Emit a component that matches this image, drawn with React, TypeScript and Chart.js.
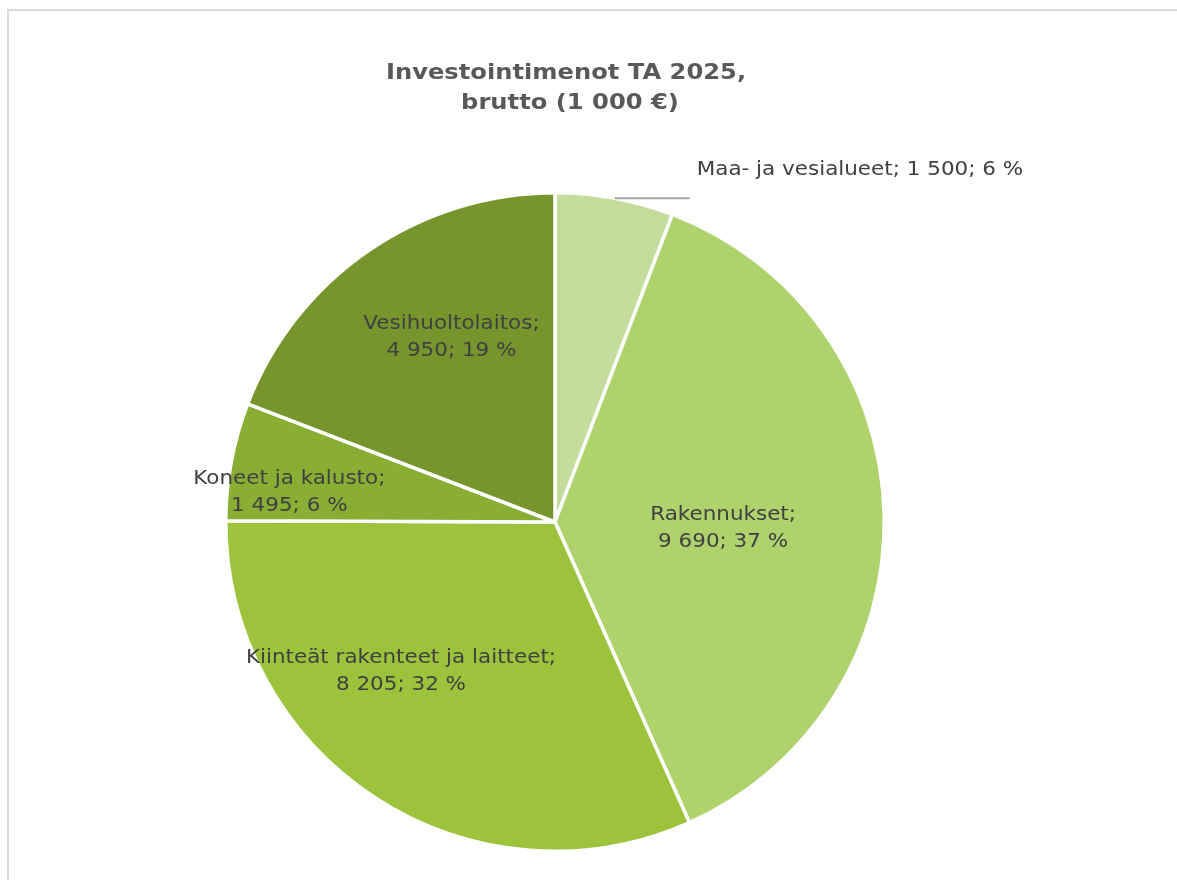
import React, { useEffect, useRef } from "react";
import { Chart, registerables } from "chart.js";

Chart.register(...registerables);

const categories = [
  "Maa- ja vesialueet",
  "Rakennukset",
  "Kiinteät rakenteet ja laitteet",
  "Koneet ja kalusto",
  "Vesihuoltolaitos",
];
const values = [1500, 9690, 8205, 1495, 4950];
const percents = [6, 37, 32, 6, 19];
const colors = ["#C5DD9C", "#AED36D", "#9BC33C", "#88AE34", "#76952D"];
const titleLines = ["Investointimenot TA 2025,", "brutto (1 000 €)"];

// label placement styles: radial factor, angle offset (deg)
const labelStyle = [
  { outside: true },
  { f: 0.511, off: 3.8 },
  { f: 0.653, off: 12.7 },
  { f: 0.812, off: -4.2 },
  { f: 0.643, off: 5.2 },
];

const fmt = (v: number) => String(v).replace(/\B(?=(\d{3})+(?!\d))/g, " ");

const FONT = '"DejaVu Sans", Verdana, sans-serif';

// draw text horizontally widened to mimic Verdana metrics
function wideText(
  ctx: CanvasRenderingContext2D,
  text: string,
  x: number,
  y: number,
  sx: number,
  align: "left" | "center"
) {
  ctx.save();
  ctx.translate(x, y);
  ctx.scale(sx, 1);
  ctx.textAlign = align;
  ctx.fillText(text, 0, 0);
  ctx.restore();
}

const labelPlugin = {
  id: "customLabels",
  afterDraw(chart: any) {
    const ctx = chart.ctx;
    const meta = chart.getDatasetMeta(0);
    ctx.save();
    ctx.textBaseline = "middle";
    // title
    ctx.fillStyle = "#595959";
    ctx.font = `bold 22px ${FONT}`;
    wideText(ctx, titleLines[0], 566, 73, 1.1, "center");
    wideText(ctx, titleLines[1], 570, 103, 1.1, "center");

    ctx.font = `19px ${FONT}`;
    ctx.fillStyle = "#404040";
    const SX = 1.13;
    meta.data.forEach((arc: any, i: number) => {
      const { x, y, startAngle, endAngle, outerRadius } = arc.getProps(
        ["x", "y", "startAngle", "endAngle", "outerRadius"],
        true
      );
      const mid = (startAngle + endAngle) / 2;
      const st: any = labelStyle[i];
      const l1 = categories[i] + ";";
      const l2 = `${fmt(values[i])}; ${percents[i]} %`;
      if (st.outside) {
        const px = x + outerRadius * Math.cos(mid);
        const py = y + outerRadius * Math.sin(mid);
        ctx.strokeStyle = "#A6A6A6";
        ctx.lineWidth = 2;
        ctx.beginPath();
        ctx.moveTo(px, py);
        ctx.lineTo(px + 75, py);
        ctx.stroke();
        wideText(ctx, `${l1} ${l2}`, px + 82, py - 28, SX, "left");
      } else {
        const a = mid + (st.off * Math.PI) / 180;
        const lx = x + st.f * outerRadius * Math.cos(a);
        const ly = y + st.f * outerRadius * Math.sin(a);
        wideText(ctx, l1, lx, ly - 13.5, SX, "center");
        wideText(ctx, l2, lx, ly + 13.5, SX, "center");
      }
    });
    ctx.restore();
  },
};

export default function App() {
  const ref = useRef<HTMLCanvasElement>(null);
  useEffect(() => {
    if (!ref.current) return;
    const chart = new Chart(ref.current, {
      type: "pie",
      data: {
        labels: categories,
        datasets: [
          {
            data: values,
            backgroundColor: colors,
            borderColor: "#FFFFFF",
            borderWidth: 3.5,
          },
        ],
      },
      options: {
        responsive: false,
        animation: false,
        layout: { padding: { top: 191, bottom: 27, left: 224, right: 291 } },
        plugins: {
          legend: { display: false },
          tooltip: { enabled: false },
          title: { display: false },
        },
      },
      plugins: [labelPlugin],
    });
    return () => chart.destroy();
  }, []);
  return (
    <div
      style={{
        position: "fixed",
        left: 0,
        top: 0,
        width: 1177,
        height: 880,
        overflow: "hidden",
        background: "#fff",
      }}
    >
      <div
        style={{
          position: "absolute",
          left: 7,
          top: 9,
          width: 1250,
          height: 950,
          border: "2px solid #D9D9D9",
          boxSizing: "border-box",
        }}
      />
      <canvas
        ref={ref}
        width={1177}
        height={880}
        style={{ position: "absolute", left: 0, top: 0 }}
      />
    </div>
  );
}
